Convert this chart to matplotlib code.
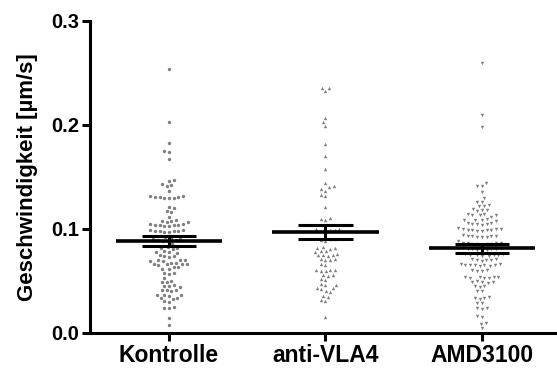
import numpy as np
import matplotlib
matplotlib.use("Agg")
import matplotlib.pyplot as plt

plt.rcParams['font.family'] = ['Liberation Sans', 'DejaVu Sans']

groups = ["Kontrolle", "anti-VLA4", "AMD3100"]

kontrolle = [
    0.254, 0.203, 0.183, 0.175, 0.174, 0.167, 0.147, 0.146, 0.143, 0.142, 0.141, 0.137,
    0.132, 0.131, 0.130, 0.130, 0.131, 0.130, 0.132, 0.131,
    0.120, 0.121, 0.117, 0.116, 0.112,
    0.108, 0.107, 0.108, 0.109, 0.107,
    0.104, 0.105, 0.103, 0.104, 0.104, 0.105, 0.103, 0.104,
    0.098, 0.099, 0.097, 0.098, 0.098, 0.099, 0.097, 0.098,
    0.092, 0.090, 0.089, 0.091, 0.088, 0.089, 0.090, 0.093, 0.088, 0.086,
    0.082, 0.081, 0.083, 0.082,
    0.078, 0.079, 0.077, 0.078,
    0.074, 0.073, 0.075, 0.074,
    0.070, 0.069, 0.070, 0.069, 0.070,
    0.066, 0.067, 0.066, 0.065, 0.066, 0.067, 0.066,
    0.063, 0.062, 0.062, 0.063,
    0.058, 0.057, 0.058,
    0.053,
    0.049, 0.050, 0.049,
    0.045, 0.046, 0.045, 0.044,
    0.041, 0.040, 0.041, 0.041,
    0.037, 0.037, 0.036, 0.037,
    0.034, 0.033, 0.034,
    0.031, 0.030,
    0.024, 0.025, 0.024,
    0.014, 0.008,
]

anti_vla4 = [
    0.236, 0.233, 0.236, 0.207, 0.203, 0.199, 0.182, 0.170, 0.158, 0.144,
    0.141, 0.140, 0.138, 0.137, 0.133, 0.132,
    0.121, 0.110, 0.111, 0.109,
    0.100, 0.099, 0.098, 0.100, 0.099, 0.097,
    0.090, 0.089, 0.088, 0.090,
    0.083, 0.082, 0.081, 0.082,
    0.079, 0.078, 0.079,
    0.075, 0.076, 0.074, 0.075, 0.075,
    0.071, 0.070, 0.071, 0.070,
    0.066, 0.065,
    0.061, 0.060, 0.061, 0.060, 0.061,
    0.056, 0.055, 0.056,
    0.052, 0.051,
    0.046, 0.047, 0.046,
    0.043, 0.042, 0.043,
    0.040, 0.039,
    0.036, 0.035,
    0.032, 0.031,
    0.015,
]

amd3100 = [
    0.260, 0.210, 0.198, 0.144, 0.141, 0.141, 0.136, 0.130,
    0.126, 0.126,
    0.123, 0.122, 0.122,
    0.118, 0.118, 0.119, 0.117,
    0.113, 0.114, 0.113, 0.112, 0.113, 0.114,
    0.109, 0.110, 0.109, 0.108, 0.109,
    0.105, 0.106, 0.105, 0.104, 0.105, 0.106,
    0.099, 0.100, 0.098, 0.099, 0.101, 0.099, 0.100, 0.098, 0.099, 0.100,
    0.093, 0.092, 0.093, 0.094, 0.092, 0.093, 0.092, 0.093,
    0.087, 0.086, 0.087, 0.085, 0.086, 0.087, 0.086, 0.088, 0.086, 0.087,
    0.081, 0.082, 0.080, 0.081, 0.081, 0.082, 0.080, 0.081, 0.082, 0.080,
    0.075, 0.076, 0.074, 0.075, 0.076, 0.075, 0.074, 0.075,
    0.070, 0.071, 0.070, 0.069, 0.070, 0.071,
    0.065, 0.066, 0.065, 0.064, 0.065, 0.066, 0.065, 0.064, 0.065,
    0.061, 0.060, 0.061, 0.060,
    0.054, 0.053, 0.054, 0.053, 0.054, 0.053, 0.054,
    0.049, 0.050, 0.049, 0.048, 0.049,
    0.045, 0.044, 0.045,
    0.040, 0.040,
    0.034, 0.035, 0.034, 0.033,
    0.029, 0.029,
    0.024, 0.023, 0.024,
    0.016, 0.015,
    0.009, 0.010,
    0.0045,
]

# mean and SEM as drawn on the chart
means = [0.0888, 0.0974, 0.0814]
sems = [0.0048, 0.0069, 0.0045]

markers = ["o", "^", "v"]


def swarm_offsets(vals_px, d):
    # simple beeswarm: put each point as close to the centre as possible
    order = np.argsort(vals_px)
    placed = []
    offs = np.zeros(len(vals_px))
    for i in order:
        y = vals_px[i]
        near = [(px, py) for px, py in placed if abs(py - y) < d]
        cand = [0.0]
        for px, py in near:
            dx = np.sqrt(d * d - (py - y) ** 2)
            cand += [px - dx, px + dx]
        cand = sorted(cand, key=abs)
        for c in cand:
            if all((c - px) ** 2 + (y - py) ** 2 >= d * d - 1e-6 for px, py in near):
                break
        offs[i] = c
        placed.append((c, y))
    return offs


fig = plt.figure(figsize=(5.57, 3.70), dpi=100)
ax = fig.add_axes([90 / 557, 1 - 333 / 370, (557 - 90) / 557, (333 - 21) / 370])
ax.set_xlim(-0.505, 2.48)
ax.set_ylim(0, 0.3)

bbox = ax.get_window_extent()
x_px = bbox.width / (2.48 + 0.505)
y_px = bbox.height / 0.3

for i, data in enumerate([kontrolle, anti_vla4, amd3100]):
    vals = np.array(data)
    offs = swarm_offsets(vals * y_px, 4.8) / x_px
    ax.scatter(i + offs, vals, s=6, marker=markers[i], color="#808080",
               linewidths=0, zorder=2, clip_on=False)
    # mean line and SEM
    ax.plot([i - 0.34, i + 0.34], [means[i], means[i]], color="black", lw=2.6,
            solid_capstyle="butt", zorder=3)
    for yv in (means[i] - sems[i], means[i] + sems[i]):
        ax.plot([i - 0.175, i + 0.175], [yv, yv], color="black", lw=2.2,
                solid_capstyle="butt", zorder=3)
    ax.plot([i, i], [means[i] - sems[i], means[i] + sems[i]], color="black",
            lw=2.2, zorder=3)

for s in ["top", "right"]:
    ax.spines[s].set_visible(False)
for s in ["left", "bottom"]:
    ax.spines[s].set_linewidth(2.2)

ax.set_yticks([0.0, 0.1, 0.2, 0.3])
ax.set_yticklabels(["0.0", "0.1", "0.2", "0.3"], fontsize=14.5, fontweight="bold")
ax.set_xticks([0, 1, 2])
ax.set_xticklabels(groups, fontsize=16.5, fontweight="bold")
ax.tick_params(axis="both", length=6, width=2.2, pad=2)
ax.set_ylabel("Geschwindigkeit [µm/s]", fontsize=16, fontweight="bold", labelpad=9)

fig.savefig("out.png", dpi=100)
